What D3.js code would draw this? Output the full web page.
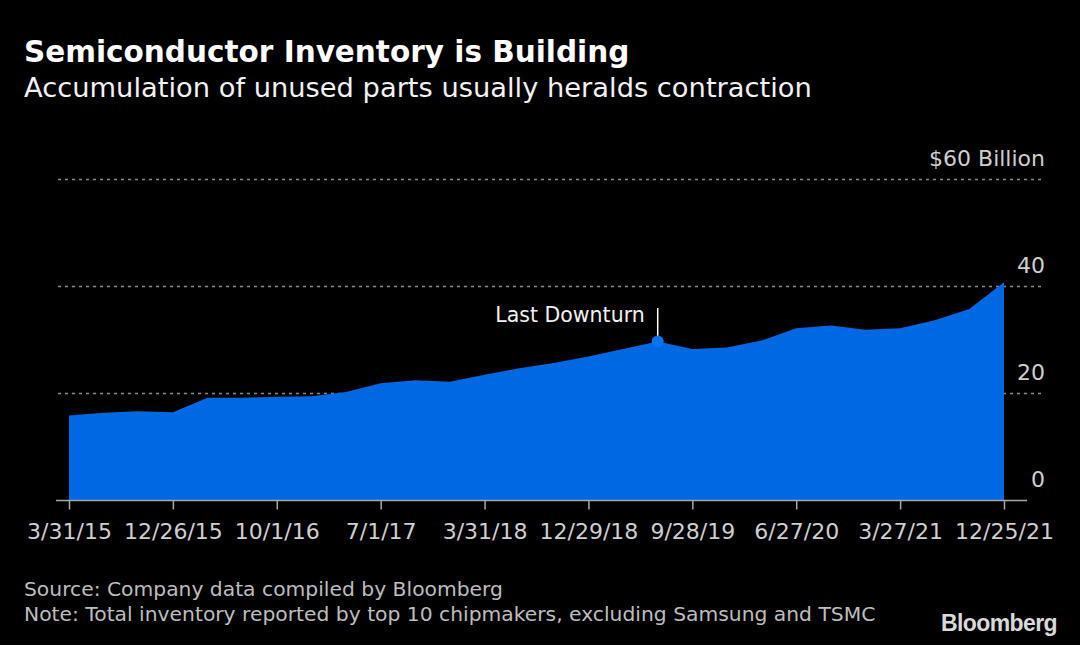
<!DOCTYPE html>
<html>
<head>
<meta charset="utf-8">
<script src="https://cdn.jsdelivr.net/npm/d3@7"></script>
<style>
  html, body { margin: 0; padding: 0; background: #000; }
  svg { display: block; }
</style>
</head>
<body>
<div id="chart"></div>
<script>
// Couleurs
const bgColor = "#000000";
const areaColor = "#0068e3";
const dotColor = "#0b72f0";
const axisTextColor = "#cfcfcf";
const gridColor = "#8a8a8a";
const font = "'DejaVu Sans', sans-serif";

// Données : inventaire trimestriel ($ milliards), 3/31/15 -> 12/25/21
const quarterIndex = d3.range(28);
const inventory = [
  15.9, 16.4, 16.7, 16.5, 19.2, 19.2, 19.4, 19.5, 20.3, 21.9,
  22.5, 22.2, 23.5, 24.7, 25.7, 26.9, 28.3, 29.7, 28.3, 28.6,
  29.9, 32.2, 32.7, 31.9, 32.2, 33.7, 35.8, 40.8
];
const tickIndex = [0, 3, 6, 9, 12, 15, 18, 21, 24, 27];
const tickLabels = ["3/31/15", "12/26/15", "10/1/16", "7/1/17", "3/31/18",
  "12/29/18", "9/28/19", "6/27/20", "3/27/21", "12/25/21"];
const yTicks = [0, 20, 40, 60];
const downturnIndex = 17;

const width = 1080, height = 645;
const svg = d3.select("#chart").append("svg")
  .attr("width", width)
  .attr("height", height)
  .style("background", bgColor);

const x = d3.scaleLinear().domain([0, 27]).range([69, 1004]);
const y = d3.scaleLinear().domain([0, 60]).range([500.5, 179.5]);

// Titre et sous-titre
svg.append("text")
  .attr("x", 24).attr("y", 62)
  .attr("fill", "#fff")
  .style("font-family", font)
  .style("font-weight", "bold")
  .style("font-size", "29.5px")
  .text("Semiconductor Inventory is Building");

svg.append("text")
  .attr("x", 24).attr("y", 97)
  .attr("fill", "#f2f2f2")
  .style("font-family", font)
  .style("font-size", "27.3px")
  .text("Accumulation of unused parts usually heralds contraction");

// Grille horizontale
svg.append("g")
  .selectAll("line")
  .data(yTicks.filter(d => d > 0))
  .join("line")
  .attr("x1", 58).attr("x2", 1045)
  .attr("y1", d => y(d)).attr("y2", d => y(d))
  .attr("stroke", gridColor)
  .attr("stroke-width", 1.3)
  .attr("stroke-dasharray", "3,4");

// Aire
const area = d3.area()
  .x((d, i) => x(i))
  .y0(y(0))
  .y1(d => y(d));

svg.append("path")
  .datum(inventory)
  .attr("d", area)
  .attr("fill", areaColor);

// Axe des x
const xAxis = d3.axisBottom(x)
  .tickValues(tickIndex)
  .tickFormat((d, i) => tickLabels[i])
  .tickSize(9)
  .tickPadding(14);

const gx = svg.append("g")
  .attr("transform", `translate(0, ${y(0)})`)
  .call(xAxis);
gx.select(".domain").remove();
gx.append("line")
  .attr("x1", 56).attr("x2", 1027)
  .attr("stroke", "#a8a8a8").attr("stroke-width", 1.5);
gx.selectAll(".tick line").attr("stroke", "#a8a8a8").attr("stroke-width", 1.5);
gx.selectAll(".tick text")
  .attr("fill", axisTextColor)
  .style("font-family", font)
  .style("font-size", "22px");

// Étiquettes de l'axe des y
svg.append("g")
  .selectAll("text")
  .data(yTicks)
  .join("text")
  .attr("x", 1045)
  .attr("y", d => y(d) - 14)
  .attr("text-anchor", "end")
  .attr("fill", axisTextColor)
  .style("font-family", font)
  .style("font-size", "22px")
  .text(d => d === 60 ? "$60 Billion" : d);

// Annotation "Last Downturn"
const dx = x(downturnIndex), dy = y(inventory[downturnIndex]);
svg.append("line")
  .attr("x1", dx).attr("x2", dx)
  .attr("y1", dy).attr("y2", 308)
  .attr("stroke", "#fff").attr("stroke-width", 1.5);
svg.append("circle")
  .attr("cx", dx).attr("cy", dy).attr("r", 6)
  .attr("fill", dotColor);
svg.append("text")
  .attr("x", dx - 13).attr("y", 322)
  .attr("text-anchor", "end")
  .attr("fill", "#f2f2f2")
  .style("font-family", font)
  .style("font-size", "20.5px")
  .text("Last Downturn");

// Notes de bas de page
const footer = ["Source: Company data compiled by Bloomberg",
  "Note: Total inventory reported by top 10 chipmakers, excluding Samsung and TSMC"];
svg.append("g")
  .selectAll("text")
  .data(footer)
  .join("text")
  .attr("x", 24)
  .attr("y", (d, i) => 596 + i * 25)
  .attr("fill", "#bdbdbd")
  .style("font-family", font)
  .style("font-size", "20.3px")
  .text(d => d);

svg.append("text")
  .attr("x", 1057).attr("y", 631)
  .attr("text-anchor", "end")
  .attr("fill", "#d9d9d9")
  .style("font-family", "'Liberation Sans', Arial, sans-serif")
  .style("font-weight", "bold")
  .style("font-size", "23px")
  .style("letter-spacing", "-0.6px")
  .text("Bloomberg");
</script>
</body>
</html>
